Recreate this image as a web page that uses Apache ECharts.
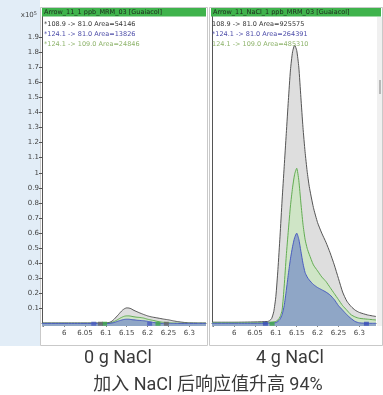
<!DOCTYPE html>
<html>
<head>
<meta charset="utf-8">
<script src="https://cdn.jsdelivr.net/npm/echarts@6/dist/echarts.min.js"></script>
<style>
  html, body { margin: 0; padding: 0; background: #fff; }
  #chart { width: 383px; height: 395px; }
</style>
</head>
<body>
<div id="chart"></div>
<script>
// retention time (min), shared by all traces
const times = [5.947, 6.00, 6.05, 6.08, 6.085, 6.09, 6.095, 6.10, 6.105, 6.11, 6.115, 6.12, 6.125, 6.13, 6.135, 6.14, 6.145, 6.15, 6.155, 6.16, 6.165, 6.17, 6.175, 6.18, 6.19, 6.20, 6.21, 6.22, 6.23, 6.24, 6.25, 6.26, 6.27, 6.28, 6.29, 6.30, 6.32, 6.34];

// 0 g NaCl (x10^5 counts)
const grayL = [0.005, 0.005, 0.005, 0.005, 0.005, 0.005, 0.006, 0.006, 0.007, 0.01, 0.018, 0.03, 0.045, 0.06, 0.076, 0.09, 0.1, 0.105, 0.104, 0.1, 0.092, 0.085, 0.079, 0.073, 0.062, 0.052, 0.045, 0.04, 0.035, 0.03, 0.026, 0.02, 0.015, 0.011, 0.008, 0.006, 0.005, 0.005];
const greenL = [0.003, 0.003, 0.003, 0.003, 0.003, 0.003, 0.003, 0.003, 0.003, 0.005, 0.009, 0.015, 0.022, 0.03, 0.038, 0.045, 0.05, 0.052, 0.052, 0.05, 0.047, 0.045, 0.043, 0.042, 0.038, 0.03, 0.024, 0.018, 0.012, 0.009, 0.007, 0.005, 0.004, 0.003, 0.003, 0.003, 0.003, 0.003];
const blueL = [0.002, 0.002, 0.002, 0.002, 0.002, 0.002, 0.002, 0.002, 0.002, 0.003, 0.005, 0.008, 0.013, 0.018, 0.022, 0.026, 0.029, 0.03, 0.03, 0.028, 0.026, 0.025, 0.023, 0.022, 0.02, 0.016, 0.01, 0.006, 0.003, 0.002, 0.002, 0.002, 0.002, 0.002, 0.002, 0.002, 0.002, 0.002];

// 4 g NaCl (x10^5 counts)
const grayR = [0.010, 0.010, 0.012, 0.015, 0.02, 0.035, 0.08, 0.18, 0.36, 0.58, 0.82, 1.04, 1.26, 1.48, 1.68, 1.80, 1.845, 1.81, 1.70, 1.50, 1.30, 1.14, 1.01, 0.91, 0.77, 0.67, 0.60, 0.54, 0.47, 0.39, 0.30, 0.21, 0.15, 0.115, 0.09, 0.075, 0.058, 0.048];
const greenR = [0.006, 0.006, 0.006, 0.007, 0.008, 0.010, 0.012, 0.015, 0.025, 0.045, 0.09, 0.25, 0.45, 0.62, 0.78, 0.90, 0.99, 1.03, 0.95, 0.80, 0.66, 0.56, 0.50, 0.46, 0.39, 0.35, 0.31, 0.28, 0.24, 0.20, 0.16, 0.12, 0.09, 0.06, 0.045, 0.036, 0.03, 0.025];
const blueR = [0.003, 0.003, 0.003, 0.003, 0.003, 0.004, 0.005, 0.008, 0.015, 0.03, 0.06, 0.12, 0.22, 0.33, 0.43, 0.51, 0.57, 0.60, 0.56, 0.48, 0.40, 0.34, 0.31, 0.29, 0.26, 0.24, 0.225, 0.21, 0.19, 0.16, 0.12, 0.09, 0.06, 0.035, 0.015, 0.006, 0.003, 0.003];

// integration markers on the baseline
const markBlueL = [6.071, 6.205];
const markGreenL = [6.097, 6.225];
const markDarkL = [6.087, 6.245];
const markBlueR = [6.075, 6.317];
const markGreenR = [6.091];

// tick labels
const xTicks = [5.95, 6, 6.05, 6.1, 6.15, 6.2, 6.25, 6.3];
const xLabels = [6, 6.05, 6.1, 6.15, 6.2, 6.25, 6.3];
const yLabels = [0.1, 0.2, 0.3, 0.4, 0.5, 0.6, 0.7, 0.8, 0.9, 1, 1.1, 1.2, 1.3, 1.4, 1.5, 1.6, 1.7, 1.8, 1.9];

const headers = ["Arrow_11_1 ppb_MRM_03 [Guaiacol]", "Arrow_11_NaCl_1 ppb_MRM_03 [Guaiacol]"];
const legendL = ["*108.9 -> 81.0 Area=54146", "*124.1 -> 81.0 Area=13826", "*124.1 -> 109.0 Area=24846"];
const legendR = ["108.9 -> 81.0 Area=925575", "*124.1 -> 81.0 Area=264391", "124.1 -> 109.0 Area=485310"];
const captions = ["0 g NaCl", "4 g NaCl"];
const title = "加入 NaCl 后响应值升高 94%";

const FONT = "DejaVu Sans";
const lineColors = ["#555555", "#62ad52", "#4a5cc0"];
const fillColors = ["#dedede", "#cfe5c6", "#8fa6c6"];
const legendColors = ["#333333", "#4b4ba8", "#8db36a"];

const chart = echarts.init(document.getElementById("chart"));

const pairs = (vals) => times.map((t, i) => [t, vals[i]]);

const trace = (idx, vals, k) => ({
  type: "line",
  xAxisIndex: idx,
  yAxisIndex: idx,
  data: pairs(vals),
  symbol: "none",
  smooth: 0.2,
  lineStyle: { color: lineColors[k], width: 1 },
  areaStyle: { color: fillColors[k], opacity: 1, origin: "start" },
  silent: true,
  z: 2 + k,
});

const marks = (idx, list, color) => ({
  type: "scatter",
  xAxisIndex: idx,
  yAxisIndex: idx,
  data: list.map((t) => [t, 0]),
  symbol: "rect",
  symbolSize: [5, 4],
  itemStyle: { color: color },
  silent: true,
  z: 6,
});

const xAxis = (idx) => ({
  type: "value",
  gridIndex: idx,
  min: 5.947,
  max: 6.34,
  axisLine: { show: true, lineStyle: { color: "#555", width: 1 } },
  axisTick: { show: true, length: 3, customValues: xTicks, lineStyle: { color: "#555" } },
  axisLabel: {
    customValues: xLabels,
    fontSize: 7,
    fontFamily: FONT,
    color: "#444",
    margin: 4,
    formatter: (v) => String(v),
  },
  splitLine: { show: false },
});

const yAxis = (idx) => ({
  type: "value",
  gridIndex: idx,
  min: -0.015,
  max: 2.045,
  axisLine: { show: true, lineStyle: { color: "#555", width: 1 } },
  axisTick: { show: idx === 0, length: 3, customValues: yLabels, lineStyle: { color: "#555" } },
  axisLabel: {
    show: idx === 0,
    customValues: yLabels,
    fontSize: 7,
    fontFamily: FONT,
    color: "#444",
    margin: 3,
    formatter: (v) => String(parseFloat(v.toFixed(1))),
  },
  splitLine: { show: false },
});

const text = (x, y, str, color, size, align, family) => ({
  type: "text",
  x: x,
  y: y,
  silent: true,
  style: {
    text: str,
    fill: color,
    fontSize: size,
    fontFamily: family || FONT,
    align: align || "left",
    verticalAlign: "middle",
  },
  z: 10,
});

const graphic = [
  // light blue strip behind y labels
  { type: "rect", shape: { x: 0, y: 0, width: 40, height: 346 }, style: { fill: "#e2edf7" }, silent: true, z: -1 },
  // panel frames
  { type: "rect", shape: { x: 40.5, y: 7.5, width: 167, height: 338 }, style: { fill: "#fff", stroke: "#c9c9c9" }, silent: true, z: -1 },
  { type: "rect", shape: { x: 209.5, y: 7.5, width: 173, height: 338 }, style: { fill: "#fff", stroke: "#c9c9c9" }, silent: true, z: -1 },
  // header bars
  { type: "rect", shape: { x: 42, y: 8, width: 164, height: 8.5 }, style: { fill: "#3fb34c" }, silent: true, z: 9 },
  { type: "rect", shape: { x: 211, y: 8, width: 170, height: 8.5 }, style: { fill: "#3fb34c" }, silent: true, z: 9 },
  text(44, 12.5, headers[0], "#1e2a1e", 6.5),
  text(213, 12.5, headers[1], "#1e2a1e", 6.5),
  // scroll strip on the right panel
  { type: "rect", shape: { x: 377, y: 17, width: 5, height: 309 }, style: { fill: "#f0f0f0" }, silent: true, z: 8 },
  { type: "rect", shape: { x: 379, y: 80, width: 2, height: 14 }, style: { fill: "#b8b8b8" }, silent: true, z: 8 },
  // y scale factor
  {
    type: "text",
    x: 37,
    y: 15,
    silent: true,
    style: {
      text: "{a|x10}{b|5}",
      align: "right",
      verticalAlign: "middle",
      rich: {
        a: { fontSize: 7, fontFamily: FONT, fill: "#444", verticalAlign: "bottom" },
        b: { fontSize: 5, fontFamily: FONT, fill: "#444", verticalAlign: "top" },
      },
    },
    z: 10,
  },
  // captions
  text(118, 358, captions[0], "#3a3a3a", 18, "center", "Roboto"),
  text(290, 358, captions[1], "#3a3a3a", 18, "center", "Roboto"),
  text(208, 385, title, "#3a3a3a", 18, "center", "Roboto, 'Noto Sans CJK SC'"),
];

legendL.forEach((s, i) => graphic.push(text(44, 24 + i * 10, s, legendColors[i], 6.5)));
legendR.forEach((s, i) => graphic.push(text(212, 24 + i * 10, s, legendColors[i], 6.5)));

chart.setOption({
  animation: false,
  backgroundColor: "#ffffff",
  grid: [
    { left: 42, top: 15, width: 164, height: 311 },
    { left: 212, top: 15, width: 164, height: 311 },
  ],
  xAxis: [xAxis(0), xAxis(1)],
  yAxis: [yAxis(0), yAxis(1)],
  series: [
    trace(0, grayL, 0),
    trace(0, greenL, 1),
    trace(0, blueL, 2),
    marks(0, markBlueL, "#4a5cc0"),
    marks(0, markGreenL, "#3fa84a"),
    marks(0, markDarkL, "#666"),
    trace(1, grayR, 0),
    trace(1, greenR, 1),
    trace(1, blueR, 2),
    marks(1, markBlueR, "#3a4fb8"),
    marks(1, markGreenR, "#3fa84a"),
  ],
  graphic: graphic,
});

window.addEventListener("resize", () => chart.resize());
</script>
</body>
</html>
